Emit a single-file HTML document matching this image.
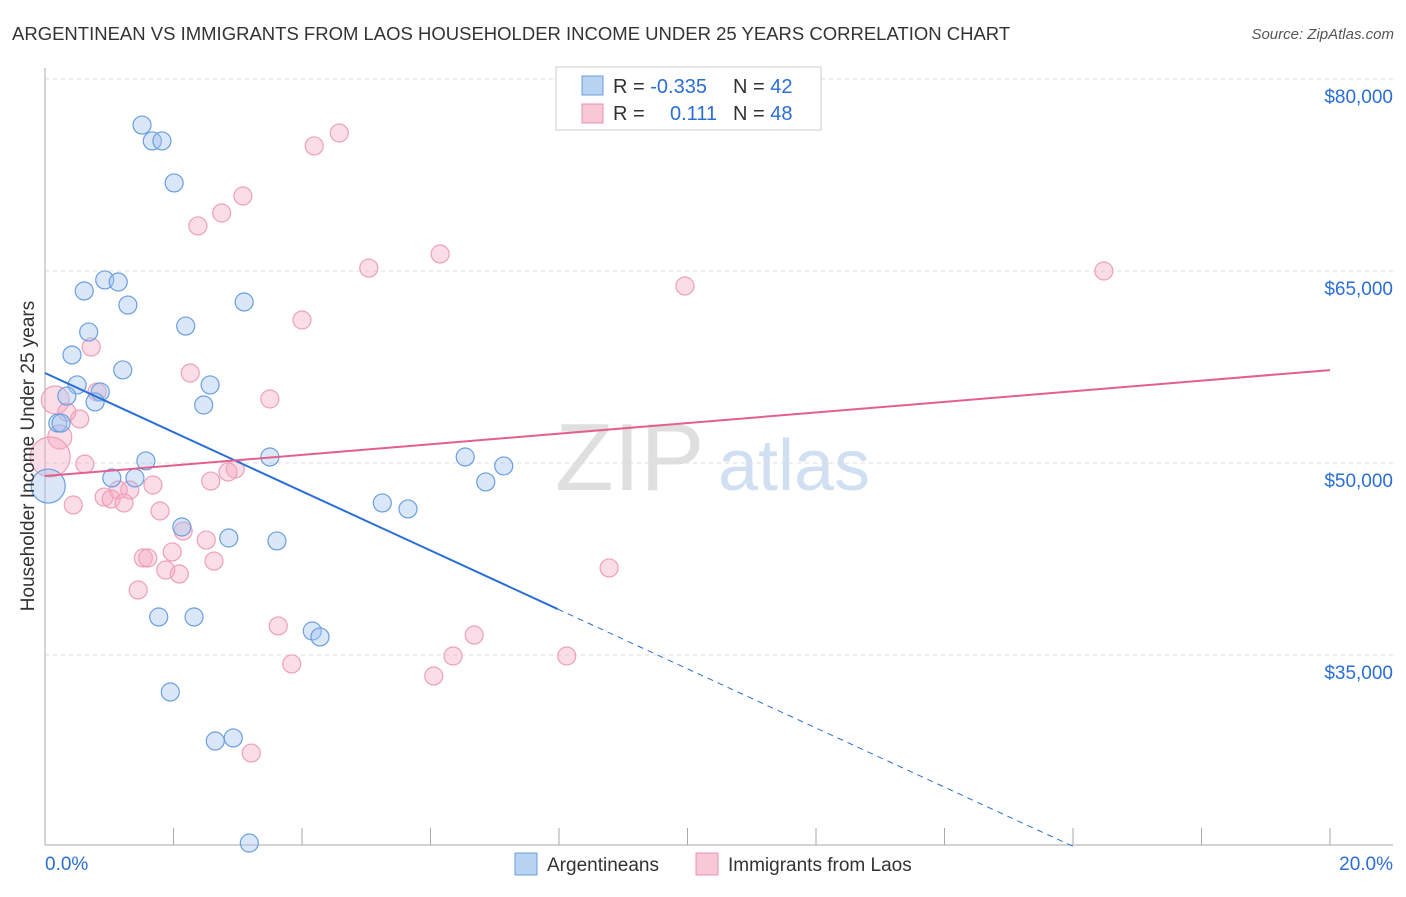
<!DOCTYPE html>
<html><head><meta charset="utf-8"><style>
body{margin:0;background:#fff;font-family:"Liberation Sans",sans-serif;}
svg text{font-family:"Liberation Sans",sans-serif;}
</style></head><body>
<svg id="chart" width="1406" height="892" xmlns="http://www.w3.org/2000/svg">
<text x="12" y="40" font-size="18.5" fill="#333">ARGENTINEAN VS IMMIGRANTS FROM LAOS HOUSEHOLDER INCOME UNDER 25 YEARS CORRELATION CHART</text>
<text x="1394" y="39" font-size="15" fill="#555" font-style="italic" text-anchor="end">Source: ZipAtlas.com</text>
<g>
<text x="555" y="490" font-size="96" fill="#d8d8d8" font-family="Liberation Serif,serif" opacity="0.8">ZIP</text>
<text x="718" y="490" font-size="72" fill="#c5d8f0" opacity="0.8">atlas</text>
</g>
<g id="grid"></g>
<g id="axes"></g>
<g id="marks"></g>
<text transform="translate(34,456) rotate(-90)" font-size="19" fill="#333" text-anchor="middle">Householder Income Under 25 years</text>
<g>
<rect x="556" y="67" width="265" height="63" fill="#fff" stroke="#ccc"/>
<rect x="582" y="76" width="21" height="19" fill="#b9d3f3" stroke="#6a9ee0"/>
<rect x="582" y="104" width="21" height="19" fill="#f9c8d6" stroke="#e891ab"/>
<text x="613" y="93" font-size="20" fill="#333">R = <tspan fill="#2a6ed6">-0.335</tspan><tspan x="733">N = </tspan><tspan fill="#2a6ed6">42</tspan></text>
<text x="613" y="120" font-size="20" fill="#333">R = <tspan fill="#2a6ed6" x="670">0.111</tspan><tspan x="733">N = </tspan><tspan fill="#2a6ed6">48</tspan></text>
</g>
<g>
<rect x="515" y="853" width="22" height="22" fill="#b9d3f3" stroke="#6a9ee0"/>
<text x="547" y="871" font-size="19" fill="#333">Argentineans</text>
<rect x="696" y="853" width="22" height="22" fill="#f9c8d6" stroke="#e891ab"/>
<text x="728" y="871" font-size="19" fill="#333">Immigrants from Laos</text>
</g>
</svg>
<script>
const blueX=[1.51,1.67,1.82,2.01,0.93,1.14,0.61,1.29,3.10,2.19,0.68,0.42,1.21,0.50,2.57,0.86,0.34,0.78,2.47,0.20,0.25,3.50,1.57,6.54,7.14,6.86,1.04,1.40,0.05,5.25,5.65,2.13,2.86,3.61,1.77,2.32,4.16,4.28,1.95,2.65,2.93,3.18];
const blueY=[76400,75160,75160,71880,64300,64140,63440,62340,62580,60700,60230,58440,57270,56100,56100,55550,55230,54770,54530,53120,53120,50470,50160,50470,49770,48520,48830,48830,48200,46880,46410,45000,44140,43910,37970,37970,36875,36410,32110,28280,28520,20310];
const blueR=[9,9,9,9,9,9,9,9,9,9,9,9,9,9,9,9,9,9,9,9,9,9,9,9,9,9,9,9,17,9,9,9,9,9,9,9,9,9,9,9,9,9];
const pinkX=[4.58,4.19,3.08,2.75,2.38,6.15,5.04,16.48,9.96,4.00,0.72,2.26,3.50,0.16,0.34,0.54,0.23,0.08,0.62,2.96,2.85,2.58,1.68,0.92,1.14,1.32,0.44,1.03,1.23,1.79,2.15,2.51,2.63,1.98,1.53,1.60,1.88,2.09,1.45,8.78,3.63,6.68,6.35,8.12,3.84,6.05,3.21,0.81];
const pinkY=[75780,74770,70860,69530,68520,66330,65230,65000,63830,61170,59060,57030,55000,54920,53980,53440,52030,50470,49920,49530,49300,48590,48280,47340,47890,47890,46720,47190,46880,46250,44690,43980,42340,43050,42580,42580,41640,41330,40080,41800,37270,36560,34920,34920,34300,33360,27340,55550];
const pinkR=[9,9,9,9,9,9,9,9,9,9,9,9,9,14,9,9,12,20,9,9,9,9,9,9,9,9,9,9,9,9,9,9,9,9,9,9,9,9,9,9,9,9,9,9,9,9,9,9];
const yTicks=[80000,65000,50000,35000];
const yTickLabels=["$80,000","$65,000","$50,000","$35,000"];
const xTicks=[0,2,4,6,8,10,12,14,16,18,20];
const blueTrend=[57030,-2311];
const pinkTrend=[48980,414];
const NS="http://www.w3.org/2000/svg";
const X=p=>45+p/20*1285;
const Y=v=>79+(80000-v)*0.0128;
function mk(tag,parent,attrs){const e=document.createElementNS(NS,tag);for(const k in attrs)e.setAttribute(k,attrs[k]);document.getElementById(parent).appendChild(e);return e;}
yTicks.forEach((v,i)=>{
 let l=mk('line','grid',{x1:45,x2:1393,y1:Y(v),y2:Y(v),stroke:'#ddd','stroke-dasharray':'4,4'});
 
 
 let t=mk('text','grid',{x:1393,y:Y(v)+24,'font-size':19,fill:'#2a6ed6','text-anchor':'end'});t.textContent=yTickLabels[i];
 
 
});
let ax=mk('line','axes',{x1:45,x2:45,y1:68,y2:845,stroke:'#aaa'});


let bx=mk('line','axes',{x1:45,x2:1393,y1:845,y2:845,stroke:'#aaa'});


xTicks.forEach(p=>{let t=mk('line','axes',{x1:X(p),x2:X(p),y1:828,y2:845,stroke:'#aaa'});
 
 });
let xl=mk('text','axes',{x:45,y:870,'font-size':19,fill:'#2a6ed6'});xl.textContent='0.0%';


let xr=mk('text','axes',{x:1393,y:870,'font-size':19,fill:'#2a6ed6','text-anchor':'end'});xr.textContent='20.0%';


pinkX.forEach((p,i)=>{let c=mk('circle','marks',{cx:X(p),cy:Y(pinkY[i]),r:pinkR[i],fill:'rgba(246,170,194,0.4)',stroke:'#eda0b8','stroke-width':1.2});
 
 });
blueX.forEach((p,i)=>{let c=mk('circle','marks',{cx:X(p),cy:Y(blueY[i]),r:blueR[i],fill:'rgba(160,196,240,0.4)',stroke:'#6a9ee0','stroke-width':1.2});
 
 });
const bt=p=>blueTrend[0]+blueTrend[1]*p, pt=p=>pinkTrend[0]+pinkTrend[1]*p;
let l1=mk('line','marks',{x1:X(0),y1:Y(bt(0)),x2:X(7.98),y2:Y(bt(7.98)),stroke:'#2a6ed6','stroke-width':2});


let l2=mk('line','marks',{x1:X(7.98),y1:Y(bt(7.98)),x2:X(16),y2:Y(bt(16)),stroke:'#2a6ed6','stroke-width':1,'stroke-dasharray':'6,5'});


let l3=mk('line','marks',{x1:X(0),y1:Y(pt(0)),x2:X(20),y2:Y(pt(20)),stroke:'#e4608c','stroke-width':2});


</script>
</body></html>
